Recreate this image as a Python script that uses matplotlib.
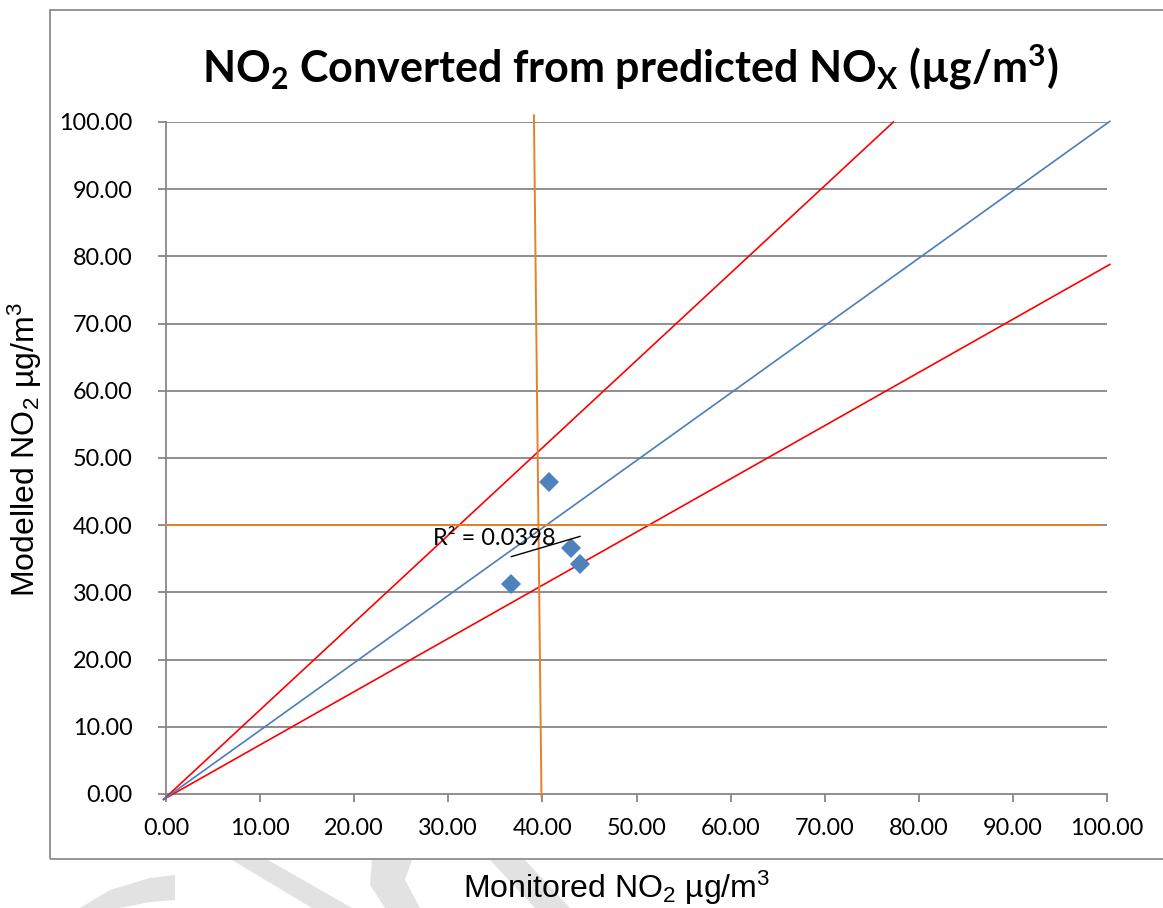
import numpy as np
import matplotlib
matplotlib.use("Agg")
import matplotlib.pyplot as plt
from matplotlib.patches import Rectangle, Polygon

plt.rcParams['mathtext.fontset'] = 'custom'
plt.rcParams['mathtext.rm'] = 'Liberation Sans'
plt.rcParams['mathtext.it'] = 'Liberation Sans:italic'
plt.rcParams['mathtext.bf'] = 'Lato:bold'

# ---- data ----
monitored = [40.73, 43.0, 44.0, 36.7]
modelled = [46.47, 36.65, 34.2, 31.25]
r2_label = "R² = 0.0398"

one_to_one_x = [-0.25, 100.3]
one_to_one_y = [-0.8, 100.1]
upper_x = [-0.25, 77.3]
upper_y = [-0.8, 100.0]
lower_x = [-0.25, 100.3]
lower_y = [-0.8, 78.8]
limit_v_x = [39.1, 39.9]
limit_v_y = [101.0, -0.3]
limit_h_x = [0.0, 99.3]
limit_h_y = [40.0, 40.0]

ticks = [0, 10, 20, 30, 40, 50, 60, 70, 80, 90, 100]
tick_labels = [f"{t:.2f}" for t in ticks]

W, H = 1163, 908
fig = plt.figure(figsize=(W / 100, H / 100), dpi=100)

def px(x, y):
    return x / W, 1 - y / H

# watermark shapes (light grey)
wm = '#E2E2E2'
shapes = [
    [(232, 860), (268, 860), (352, 908), (312, 908)],
    [(372, 860), (412, 860), (405, 880), (420, 908), (385, 908), (370, 885)],
    [(490, 860), (525, 860), (570, 908), (535, 908)],
    [(80, 908), (110, 890), (150, 878), (175, 875), (175, 900), (150, 902), (120, 908)],
]
for s in shapes:
    fig.patches.append(Polygon([px(*p) for p in s], closed=True, transform=fig.transFigure,
                               facecolor=wm, edgecolor='none', zorder=0))

# chart border
x0, y0 = px(50, 859)
fig.patches.append(Rectangle((x0, y0), 1.2, (859 - 10) / H, transform=fig.transFigure,
                             facecolor='none', edgecolor='#8C8C8C', linewidth=1.3, zorder=1))

l, b = px(166, 794)
r, t = px(1107, 122)
ax = fig.add_axes([l, b, r - l, t - b])
ax.set_facecolor('none')
ax.set_xlim(0, 100)
ax.set_ylim(0, 100)

grid_c = '#868686'
for yv in ticks[1:]:
    ax.axhline(yv, color=grid_c, lw=1.3, zorder=1)

for side in ['top', 'right']:
    ax.spines[side].set_visible(False)
for side in ['left', 'bottom']:
    ax.spines[side].set_color(grid_c)
    ax.spines[side].set_linewidth(1.3)

ax.set_xticks(ticks)
ax.set_yticks(ticks)
ax.set_xticklabels(tick_labels, family='Lato', fontsize=16.8)
ax.set_yticklabels(tick_labels, family='Lato', fontsize=16.8)
ax.tick_params(axis='both', direction='out', length=6, width=1.3, color=grid_c)
ax.tick_params(axis='x', pad=11)
ax.tick_params(axis='y', pad=18)

ax.plot(upper_x, upper_y, color='#FF0000', lw=1.2, clip_on=False, zorder=3)
ax.plot(lower_x, lower_y, color='#FF0000', lw=1.2, clip_on=False, zorder=3)
ax.plot(one_to_one_x, one_to_one_y, color='#4A7EBB', lw=1.2, clip_on=False, zorder=3)
ax.plot(limit_v_x, limit_v_y, color='#E97F26', lw=1.4, clip_on=False, zorder=3)
ax.plot(limit_h_x, limit_h_y, color='#E97F26', lw=1.4, clip_on=False, zorder=3)

ax.plot(monitored, modelled, linestyle='none', marker='D', markersize=10.5,
        markerfacecolor='#4F81BD', markeredgewidth=0, zorder=5)

coef = np.polyfit(monitored, modelled, 1)
tx_line = np.array([min(monitored), max(monitored)])
ax.plot(tx_line, np.polyval(coef, tx_line), color='black', lw=1.0, zorder=6)

ax.text(28.4, 37.05, r2_label, ha='left', va='baseline', fontsize=17,
        family=['Lato', 'DejaVu Sans'], color='black', zorder=7)

# title
ttx, tty = px(630, 83)
fig.text(ttx, tty, r"NO$_\mathbf{2}$ Converted from predicted NO$_\mathbf{X}$ (µg/m$^\mathbf{3}$)",
         ha='center', va='baseline', fontsize=31, fontweight='bold', family='Lato')

# axis titles
xlx, xly = px(617, 888)
fig.text(xlx, xly, r"Monitored NO$_2$ µg/m$^3$", ha='center', va='center', fontsize=23,
         family='Liberation Sans')
ylx, yly = px(25, 450)
fig.text(ylx, yly, r"Modelled NO$_2$ µg/m$^3$", ha='center', va='center', fontsize=23,
         family='Liberation Sans', rotation=90)

fig.savefig('out.png', dpi=100)
